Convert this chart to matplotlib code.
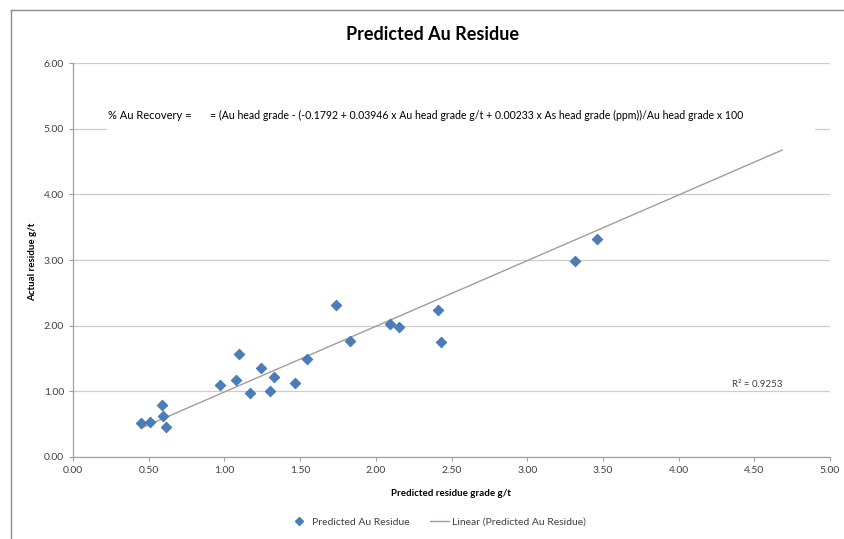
import numpy as np
import matplotlib
matplotlib.use('Agg')
import matplotlib.pyplot as plt
from matplotlib.patches import Rectangle
from matplotlib.lines import Line2D

# values
predicted = [0.448, 0.509, 0.586, 0.593, 0.615, 0.968, 1.076, 1.096, 1.168, 1.243, 1.303,
             1.327, 1.464, 1.545, 1.737, 1.828, 2.097, 2.152, 2.413, 2.430, 3.316, 3.464]
actual = [0.522, 0.528, 0.790, 0.624, 0.460, 1.090, 1.167, 1.572, 0.974, 1.360, 1.005,
          1.222, 1.131, 1.490, 2.320, 1.766, 2.020, 1.984, 2.234, 1.755, 2.987, 3.320]
xticks = [0.0, 0.5, 1.0, 1.5, 2.0, 2.5, 3.0, 3.5, 4.0, 4.5, 5.0]
yticks = [0.0, 1.0, 2.0, 3.0, 4.0, 5.0, 6.0]
# trendline as drawn in the picture (slope, intercept) and its forecast forward
trend_coef = (1.0, -0.01)
trend_forward = 1.22
r2_text = 'R² = 0.9253'
eq_left = '% Au Recovery ='
eq_right = '= (Au head grade - (-0.1792 + 0.03946 x Au head grade g/t + 0.00233 x As head grade (ppm))/Au head grade x 100'

plt.rcParams['font.family'] = ['Lato', 'DejaVu Sans']

W, H = 844, 539
fig = plt.figure(figsize=(W/100, H/100), dpi=100)
ax = fig.add_axes([73/W, 1-457/H, (830-73)/W, (457-63)/H])

# chart border (only top and left visible in the picture)
fig.add_artist(Line2D([11/W, 11/W], [0, 1-10/H], color='#8c8c8c', lw=1))
fig.add_artist(Line2D([11/W, 1], [1-10/H, 1-10/H], color='#8c8c8c', lw=1))

x = np.array(predicted)
y = np.array(actual)
xs = np.array([x.min(), x.max() + trend_forward])
ax.plot(xs, np.polyval(trend_coef, xs), color='#a39d95', lw=1, zorder=3)
ax.scatter(x, y, marker='D', s=30, color='#4a7ebb', edgecolors='#3f6fa8', linewidths=0.5, zorder=4)

ax.set_xlim(0, 5)
ax.set_ylim(0, 6)
ax.set_xticks(xticks)
ax.set_yticks(yticks)
ax.set_xticklabels(['%.2f' % v for v in xticks], fontsize=7.5, color='#404040')
ax.set_yticklabels(['%.2f' % v for v in yticks], fontsize=7.5, color='#404040')
ax.tick_params(axis='both', direction='out', length=3, color='#a0a0a0', width=0.8)
ax.grid(axis='y', color='#cccccc', lw=0.9, zorder=0)
ax.set_axisbelow(True)
for s in ['top', 'right']:
    ax.spines[s].set_visible(False)
for s in ['left', 'bottom']:
    ax.spines[s].set_color('#a0a0a0')
    ax.spines[s].set_linewidth(0.9)

fig.text(433/W, 1-35/H, 'Predicted Au Residue', ha='center', va='center', fontsize=13, fontweight='bold')
fig.text(33/W, 1-262/H, 'Actual residue g/t', ha='center', va='center', rotation=90, fontsize=7, fontweight='bold')
fig.text(451/W, 1-494/H, 'Predicted residue grade g/t', ha='center', va='center', fontsize=7, fontweight='bold')

# white box holding the equation (hides the 5.00 gridline)
fig.add_artist(Rectangle((107/W, 1-138/H), (815-107)/W, 40/H, facecolor='white', edgecolor='none', zorder=2))
fig.text(108/W, 1-115/H, eq_left, ha='left', va='center', fontsize=8, zorder=3)
fig.text(210/W, 1-115/H, eq_right, ha='left', va='center', fontsize=7.6, zorder=3)

ax.text(4.35, 1.1, r2_text, fontsize=7, color='#404040', ha='left', va='center')

handles = [Line2D([], [], marker='D', ls='none', color='#4a7ebb', markersize=4),
           Line2D([], [], color='#a39d95', lw=1)]
fig.legend(handles, ['Predicted Au Residue', 'Linear (Predicted Au Residue)'],
           loc='center', bbox_to_anchor=(438/W, 1-522/H), ncol=2, frameon=False,
           fontsize=7.5, handlelength=1.8, handletextpad=0.3, columnspacing=2.0,
           labelcolor='#404040')

fig.savefig('out.png', dpi=100)
